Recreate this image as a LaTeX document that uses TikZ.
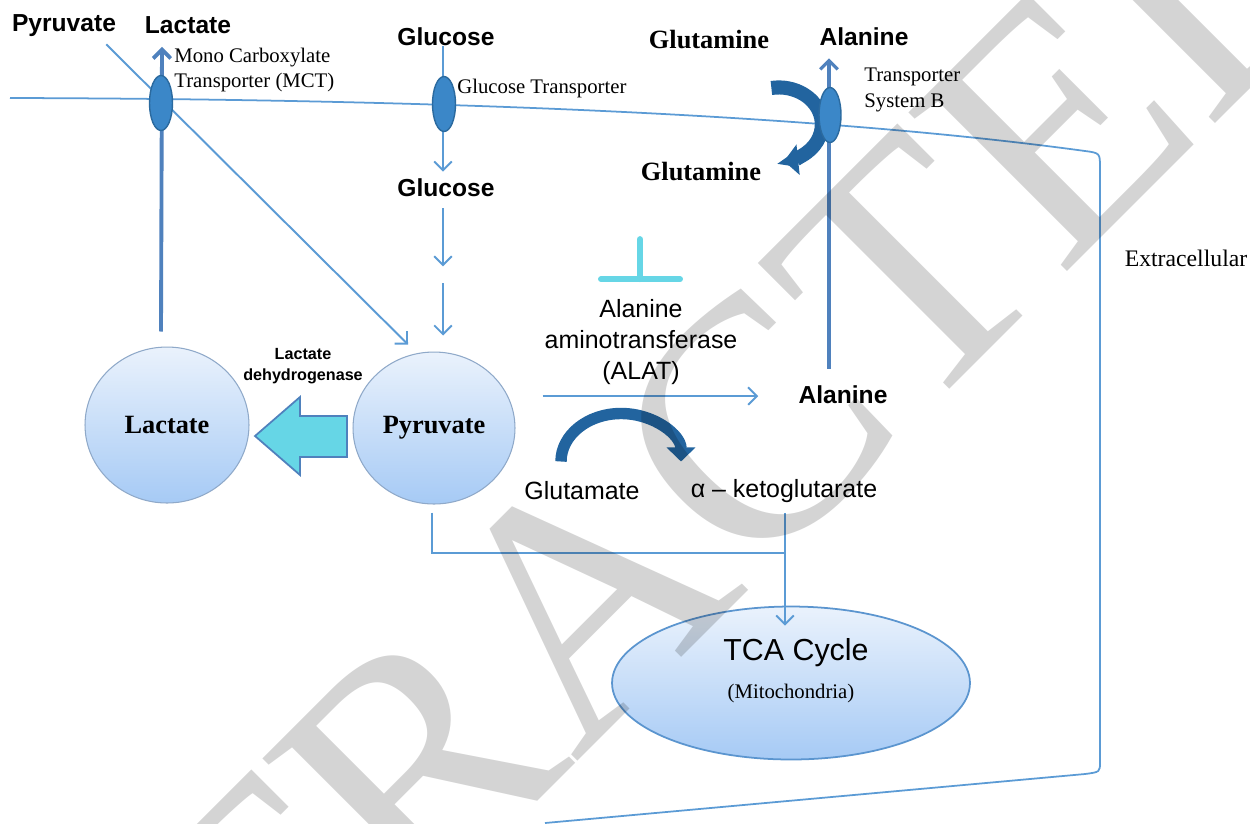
\documentclass[tikz,border=0pt]{standalone}
\usepackage{fontspec}
\setmainfont{Liberation Serif}
\setsansfont{Liberation Sans}
\usepackage{tikz}
\usetikzlibrary{arrows.meta}
\usetikzlibrary{calc}
\usetikzlibrary{positioning}
\usetikzlibrary{shapes.geometric}

\definecolor{thinblue}{HTML}{5B9BD5}
\definecolor{thickblue}{HTML}{4F81BD}
\definecolor{porefill}{HTML}{3B87C8}
\definecolor{poreline}{HTML}{2B6A9F}
\definecolor{bendblue}{HTML}{22649F}
\definecolor{blockcyan}{HTML}{66D6E6}
\definecolor{balltop}{HTML}{EAF2FC}
\definecolor{ballbot}{HTML}{A6CAF5}
\definecolor{ballrim}{HTML}{8FA9C9}
\definecolor{tcarim}{HTML}{5B95CF}

\tikzset{
  lbl/.style={font=\sffamily\bfseries\fontsize{14}{16}\selectfont, inner sep=0pt},
  note/.style={font=\fontsize{11.8}{14.6}\selectfont, inner sep=0pt, align=left},
  gln/.style={font=\bfseries\fontsize{15}{17}\selectfont, inner sep=0pt},
  sans/.style={font=\sffamily\fontsize{14.2}{17.6}\selectfont, inner sep=0pt, align=center},
  small/.style={font=\sffamily\bfseries\fontsize{9.2}{12}\selectfont, inner sep=0pt, align=center},
  ball/.style={ellipse, draw=ballrim, line width=0.6pt, top color=balltop, bottom color=ballbot,
    font=\bfseries\fontsize{15}{17}\selectfont, inner sep=0pt},
  pore/.style={ellipse, draw=poreline, fill=porefill, line width=0.8pt,
    minimum width=0.46cm, minimum height=1.1cm, inner sep=0pt},
  flow/.style={draw=thinblue, line width=1.1pt, -{Straight Barb[length=5pt,width=10pt]}},
  pipe/.style={draw=thinblue, line width=1.1pt},
  export/.style={draw=thickblue, line width=2.2pt, -{Straight Barb[length=5pt,width=10pt]}},
  swoosh/.style={draw=bendblue, line width=8pt, -{Triangle[length=8pt,width=17pt]}},
  blocker/.style={draw=blockcyan, line width=3.4pt, line cap=round},
  membrane/.style={draw=thinblue, line width=1pt},
  stamp/.style={font=\fontsize{195}{195}\selectfont, text=black, text opacity=0.17,
    rotate=45, inner sep=0pt}
}

\begin{document}
\begin{tikzpicture}[x=0.02cm, y=-0.02cm]

  \useasboundingbox (0,0) rectangle (1250,823);
  \fill[white] (0,0) rectangle (1250,823);

  % cell membrane
  \draw[membrane] (10,98) .. controls (400,99) and (800,112) .. (1085,151)
    .. controls (1100,153) .. (1100,168) -- (1100,762)
    .. controls (1100,772) .. (1085,774) -- (545,823);

  \node[ball, minimum width=3.28cm, minimum height=3.12cm] (lac) at (167,425) {Lactate};
  \node[ball, minimum width=3.24cm, minimum height=3.04cm] (pyr) at (434,428) {Pyruvate};
  \node[ball, draw=tcarim, line width=1pt, minimum width=7.16cm,
    minimum height=3.06cm] (tca) at (791,683) {};

  \node[lbl] (pyrOut) at (64,26) {Pyruvate};
  \node[lbl] (lacOut) at (188,25) {Lactate};
  \node[note, anchor=west] (mctTxt) at (174,70) {Mono Carboxylate\\Transporter (MCT)};
  \node[lbl] (glcOut) at (446,37) {Glucose};
  \node[note, anchor=west] (glutTxt) at (457,89) {Glucose Transporter};
  \node[gln] (glnOut) at (709,40) {Glutamine};
  \node[lbl] (alaOut) at (864,37) {Alanine};
  \node[note, anchor=west] (sysBTxt) at (864,90) {Transporter\\System B};
  \node[gln] (glnIn) at (701,172) {Glutamine};
  \node[lbl] (glcIn) at (446,188) {Glucose};
  \node[note, font=\fontsize{13.5}{16}\selectfont] (extra) at (1186,258) {Extracellular};
  \node[sans] (alat) at (641,342) {Alanine\\aminotransferase\\(ALAT)};
  \node[lbl] (alaIn) at (843,395) {Alanine};
  \node[small] (ldh) at (303,366) {Lactate\\dehydrogenase};
  \node[sans] (glu) at (582,491) {Glutamate};
  \node[sans] (akg) at (784,491) {α – ketoglutarate};
  \node[sans, font=\sffamily\fontsize{17.3}{20}\selectfont] (tcaTxt) at (796,653) {TCA Cycle};
  \node[note] (mito) at (791,693) {(Mitochondria)};

  % transport across the membrane
  \draw[export] ($(lac.north)+(-6,-15)$) -- ($(lacOut.south)+(-26,13)$);
  \draw[flow] ($(pyrOut.south east)+(-10,7)$) -- ($(pyr.north)+(-26,-7)$);
  \draw[flow] ($(glcOut.south)+(-3,0)$) -- ($(glcIn.north)+(-3,-7)$);
  \draw[flow] ($(glcIn.south)+(-3,11)$) -- ++(0,58);
  \draw[flow] ($(glcIn.south)+(-3,86)$) -- ($(pyr.north)+(9,-16)$);
  \draw[export, line width=1.8pt] ($(alaIn.north)+(-14,-17)$) -- ($(alaOut.south)+(-35,12)$);
  \draw[swoosh] ($(glnOut.east)+(2,48)$)
    arc[start angle=-100, end angle=83, x radius=43, y radius=37];

  % ALAT step
  \draw[flow] ($(pyr.east)+(27,-32)$) -- ($(alaIn.west)+(-40,1)$);
  \draw[blocker] ($(alat.north)+(-40,-20)$) -- ++(79,0)
    ($(alat.north)+(-1,-20)$) -- ++(0,-40);
  \draw[swoosh, line width=6.5pt, -{Triangle[length=8pt,width=16pt]}]
    ($(glu.north)+(-21,-20)$)
    arc[start angle=180, end angle=360, x radius=60, y radius=48];

  % lactate dehydrogenase
  \draw[draw=thickblue, fill=blockcyan, line width=1pt]
    (255,436) -- (300,397) -- (300,416) -- (347,416) -- (347,457)
    -- (300,457) -- (300,475) -- cycle;

  % into the TCA cycle
  \draw[pipe] ($(pyr.south)+(-2,8)$) |- ($(akg.south)+(1,50)$);
  \draw[flow] ($(akg.south)+(1,10)$) -- ($(akg.south |- tca.north)+(1,20)$);

  \node[pore] (mct) at (161,103) {};
  \node[pore] (glut) at (444,104) {};
  \node[pore, minimum width=0.44cm] (sysB) at (830,115) {};

  \begin{scope}
    \clip (0,0) rectangle (1250,823);
    \node[stamp] at (591,590) {RETRACTED};
  \end{scope}

\end{tikzpicture}
\end{document}
